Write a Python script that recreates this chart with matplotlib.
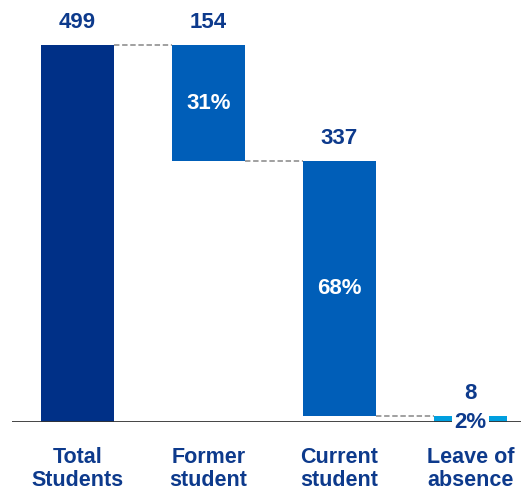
import matplotlib.pyplot as plt

categories = ['Total\nStudents', 'Former\nstudent', 'Current\nstudent', 'Leave of\nabsence']
values = [499, 154, 337, 8]
shares = [None, '31%', '68%', '2%']
colors = ['#003087', '#005EB8', '#005EB8', '#009FDF']
navy = '#0D3A8C'

plt.rcParams['font.family'] = ['Liberation Sans', 'DejaVu Sans']

fig = plt.figure(figsize=(5.21, 4.91), dpi=100)
ax = fig.add_axes([12 / 521, 69 / 491, 509 / 521, 422 / 491])

# waterfall: first bar is the total, the rest hang down from it
bottoms = []
level = values[0]
for i, v in enumerate(values):
    if i == 0:
        bottoms.append(0)
    else:
        level -= v
        bottoms.append(level)
tops = [b + v for b, v in zip(bottoms, values)]

width = 0.56
xs = list(range(len(values)))
ax.bar(xs, values, width=width, bottom=bottoms, color=colors, zorder=2)

# dashed connectors between consecutive bars
for i in range(len(values) - 1):
    y = bottoms[i] if i > 0 else tops[i]
    ax.plot([xs[i] + width / 2, xs[i + 1] - width / 2], [y, y],
            ls=(0, (3, 1.5)), color='#999999', lw=1.3, zorder=1)

# value labels above the bars
for i, v in enumerate(values):
    ax.text(xs[i], tops[i] + 30, str(v), ha='center', va='center',
            fontsize=16, fontweight='bold', color=navy)

# share labels inside bars
for i, s in enumerate(shares):
    if s is None:
        continue
    if i < 3:
        ax.text(xs[i], bottoms[i] + values[i] / 2, s, ha='center', va='center',
                fontsize=16, fontweight='bold', color='white', zorder=3)
    else:
        ax.text(xs[i], 0, s, ha='center', va='center', fontsize=16,
                fontweight='bold', color=navy, zorder=4,
                bbox=dict(facecolor='white', edgecolor='none', pad=1.5))

# category labels under the axis
for i, c in enumerate(categories):
    ax.text(xs[i], -62, c, ha='center', va='center', fontsize=15.5,
            fontweight='bold', color=navy, linespacing=1.15, clip_on=False)

ax.axhline(0, color='#333333', lw=2, zorder=3)
ax.set_xlim(-0.5, 3.386)
ax.set_ylim(0, 558.6)
ax.axis('off')

fig.savefig('out.png', dpi=100)
